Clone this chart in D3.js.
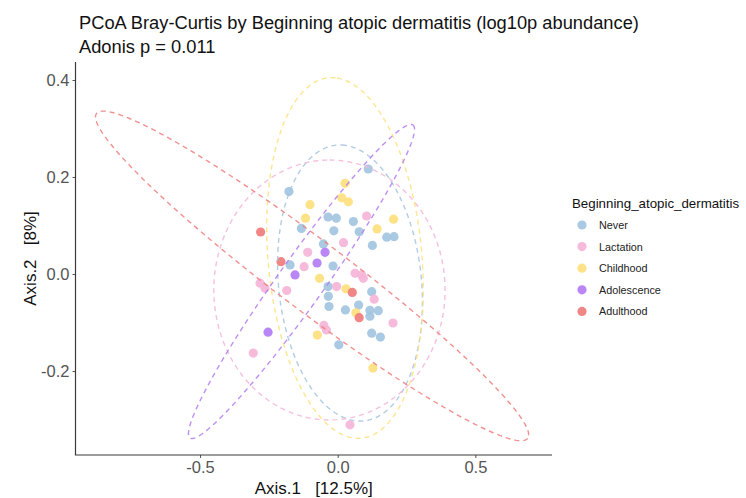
<!DOCTYPE html>
<html>
<head>
<meta charset="utf-8">
<script src="https://cdn.jsdelivr.net/npm/d3@7"></script>
<style>
  html, body { margin: 0; padding: 0; background: #fff; }
  svg { display: block; font-family: "Liberation Sans", Arial, sans-serif; }
</style>
</head>
<body>
<svg id="chart" width="746" height="498"></svg>
<script>
// ---------------- data ----------------
const groups = ["Never", "Lactation", "Childhood", "Adolescence", "Adulthood"];
const groupColors = ["#a3c4e0", "#f5b5d8", "#fde07e", "#b37cf5", "#f07c7c"];

const neverX = [0.111, -0.177, -0.035, -0.005, 0.057, -0.132, -0.014, 0.078, 0.178, 0.2045, 0.126, -0.052, -0.173, -0.017, -0.035, 0.1235, -0.034, -0.0316, 0.028, 0.076, 0.117, 0.1475, 0.117, 0.1235, 0.155, 0.004];
const neverY = [0.2165, 0.170, 0.1175, 0.115, 0.108, 0.094, 0.089, 0.087, 0.076, 0.077, 0.059, 0.062, 0.0186, 0.0165, -0.026, -0.0365, -0.046, -0.067, -0.074, -0.064, -0.075, -0.0757, -0.087, -0.122, -0.130, -0.146];

const lactationX = [0.105, 0.021, -0.109, -0.122, 0.063, 0.087, 0.093, -0.282, -0.264, -0.185, -0.004, 0.1325, 0.201, -0.0505, -0.041, -0.3066, 0.0447];
const lactationY = [0.1196, 0.0645, 0.0447, 0.015, 0.0014, -0.002, -0.009, -0.019, -0.0295, -0.034, -0.026, -0.052, -0.101, -0.106, -0.1155, -0.163, -0.311];

const childhoodX = [0.0265, 0.0145, 0.0385, -0.1006, -0.117, 0.203, 0.143, -0.066, 0.030, 0.066, -0.074, 0.128];
const childhoodY = [0.187, 0.157, 0.149, 0.143, 0.115, 0.113, 0.093, -0.009, -0.0305, -0.080, -0.126, -0.194];

const adolescenceX = [-0.046, -0.075, -0.155, -0.253];
const adolescenceY = [0.0447, 0.0227, -0.002, -0.120];

const adulthoodX = [-0.280, -0.206, 0.053, 0.078];
const adulthoodY = [0.0866, 0.0254, -0.038, -0.090];

// 95% ellipses (stat_ellipse output) in data units: centre and two conjugate semi-axis vectors
const ellipseCx = [0.0447, -0.030, 0.0265, -0.1315, -0.093];
const ellipseCy = [-0.0186, -0.033, 0.033, -0.0155, -0.004];
const ellipseAx = [-0.029, 0.0, -0.029, 0.405, 0.783];
const ellipseAy = [0.2845, 0.268, 0.371, 0.3227, -0.335];
const ellipseBx = [0.2615, 0.420, 0.283, 0.068, -0.0766];
const ellipseBy = [-0.0082, 0.0, -0.025, -0.0275, -0.0575];

const xTicks = [-0.5, 0.0, 0.5];
const yTicks = [-0.2, 0.0, 0.2, 0.4];

const titleText = "PCoA Bray-Curtis by Beginning atopic dermatitis (log10p abundance)";
const subtitleText = "Adonis p = 0.011";
const xTitle = "Axis.1   [12.5%]";
const yTitle = "Axis.2   [8%]";
const legendTitle = "Beginning_atopic_dermatitis";

// ---------------- layout ----------------
const svg = d3.select("#chart");
const pLeft = 75.5, pRight = 552, pTop = 62, pBottom = 455;

const x = d3.scaleLinear().domain([-0.9524, 0.7784]).range([pLeft, pRight]);
const y = d3.scaleLinear().domain([-0.3732, 0.4371]).range([pBottom, pTop]);

const seriesX = [neverX, lactationX, childhoodX, adolescenceX, adulthoodX];
const seriesY = [neverY, lactationY, childhoodY, adolescenceY, adulthoodY];

const points = [];
groups.forEach((g, gi) => {
  seriesX[gi].forEach((vx, i) => points.push({ g: gi, x: vx, y: seriesY[gi][i] }));
});

// points
svg.append("g").selectAll("circle").data(points).join("circle")
  .attr("cx", d => x(d.x))
  .attr("cy", d => y(d.y))
  .attr("r", 4.6)
  .attr("fill", d => groupColors[d.g])
  .attr("fill-opacity", 0.92);

// ellipses
const ts = d3.range(0, 2 * Math.PI, Math.PI / 90);
const lineGen = d3.line().x(d => x(d[0])).y(d => y(d[1])).curve(d3.curveLinearClosed);
const ellG = svg.append("g");
groups.forEach((g, gi) => {
  const pts = ts.map(t => [
    ellipseCx[gi] + ellipseAx[gi] * Math.cos(t) + ellipseBx[gi] * Math.sin(t),
    ellipseCy[gi] + ellipseAy[gi] * Math.cos(t) + ellipseBy[gi] * Math.sin(t)
  ]);
  ellG.append("path")
    .attr("d", lineGen(pts))
    .attr("fill", "none")
    .attr("stroke", groupColors[gi])
    .attr("stroke-opacity", 0.85)
    .attr("stroke-width", 1.4)
    .attr("stroke-dasharray", "5,4");
});

// axes
const fmt = d => d3.format(".1f")(d).replace("\u2212", "-");
const xAxis = svg.append("g").attr("transform", `translate(0,${pBottom})`)
  .call(d3.axisBottom(x).tickValues(xTicks).tickFormat(fmt).tickSize(3).tickPadding(3));
const yAxis = svg.append("g").attr("transform", `translate(${pLeft},0)`)
  .call(d3.axisLeft(y).tickValues(yTicks).tickFormat(fmt).tickSize(3).tickPadding(3));
[xAxis, yAxis].forEach(a => {
  a.select(".domain").remove();
  a.selectAll(".tick line").attr("stroke", "#555").attr("stroke-width", 1);
  a.selectAll(".tick text").attr("fill", "#555").style("font-size", "16.5px")
    .style("font-family", "'Liberation Sans', Arial, sans-serif");
});
xAxis.selectAll(".tick text").attr("dy", "0.75em");
// axis lines
svg.append("line").attr("x1", pLeft).attr("x2", pLeft).attr("y1", pTop).attr("y2", pBottom)
  .attr("stroke", "#3a3a3a").attr("stroke-width", 1.2);
svg.append("line").attr("x1", pLeft - 0.6).attr("x2", pRight).attr("y1", pBottom).attr("y2", pBottom)
  .attr("stroke", "#3a3a3a").attr("stroke-width", 1.2);

// axis titles
svg.append("text").attr("x", (pLeft + pRight) / 2).attr("y", 494)
  .attr("text-anchor", "middle").style("font-size", "17px").attr("fill", "#111")
  .style("white-space", "pre").text(xTitle);
svg.append("text")
  .attr("transform", `translate(36,${(pTop + pBottom) / 2}) rotate(-90)`)
  .attr("text-anchor", "middle").style("font-size", "17px").attr("fill", "#111")
  .style("white-space", "pre").text(yTitle);

// titles
svg.append("text").attr("x", 79).attr("y", 29).style("font-size", "18.3px").attr("fill", "#111").text(titleText);
svg.append("text").attr("x", 79).attr("y", 53).style("font-size", "18.3px").attr("fill", "#111").text(subtitleText);

// legend
const lg = svg.append("g");
lg.append("text").attr("x", 572).attr("y", 208).style("font-size", "13.3px").attr("fill", "#111").text(legendTitle);
groups.forEach((g, gi) => {
  const cy = 225 + gi * 21.6;
  lg.append("circle").attr("cx", 582).attr("cy", cy).attr("r", 4.6)
    .attr("fill", groupColors[gi]).attr("fill-opacity", 0.92);
  lg.append("text").attr("x", 599).attr("y", cy + 4).style("font-size", "10.8px").attr("fill", "#222").text(g);
});
</script>
</body>
</html>
